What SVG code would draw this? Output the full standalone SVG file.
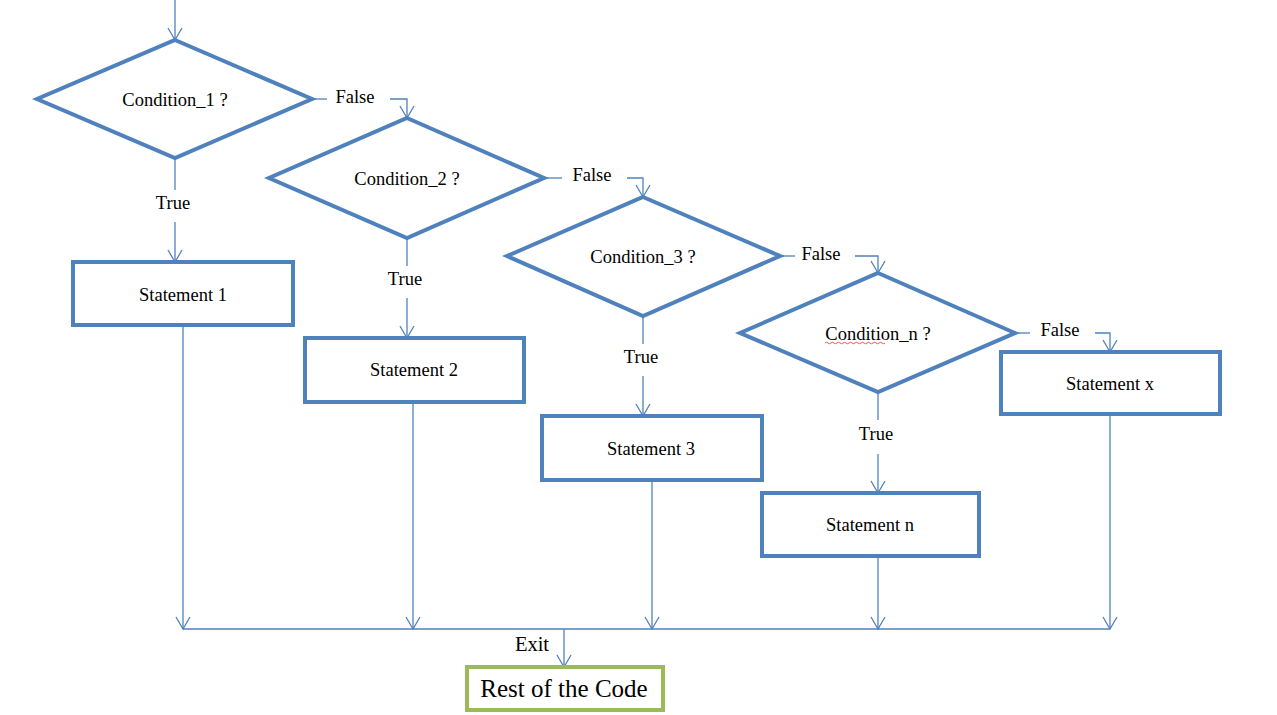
<svg xmlns="http://www.w3.org/2000/svg" width="1277" height="715" viewBox="0 0 1277 715">
<style>
.shape{fill:#fff;stroke:#4F81BD;stroke-width:4;stroke-linejoin:miter}
.end{fill:#fff;stroke:#9BBB59;stroke-width:4}
.con{fill:none;stroke:#4F81BD;stroke-width:1.3}
.t{font-family:"Liberation Serif","Times New Roman",serif;font-size:18.5px;fill:#000;text-anchor:middle}
.exit{font-size:20.5px}
.big{font-size:25px}
</style>
<defs>
<marker id="arr" viewBox="0 0 16 16" refX="14" refY="8" markerWidth="16" markerHeight="16" markerUnits="userSpaceOnUse" orient="auto">
<path d="M2,1 L14,8 L2,15" fill="none" stroke="#4F81BD" stroke-width="1.3"/>
</marker>
</defs>
<rect width="1277" height="715" fill="#fff"/>
<g id="connectors">
<line class="con" x1="175" y1="0" x2="175" y2="40" marker-end="url(#arr)"/>
<line class="con" x1="312" y1="99" x2="327" y2="99"/>
<polyline class="con" points="390,99 407,99 407,118" marker-end="url(#arr)"/>
<line class="con" x1="175" y1="158" x2="175" y2="190"/>
<line class="con" x1="175" y1="222" x2="175" y2="262" marker-end="url(#arr)"/>
<line class="con" x1="544" y1="178" x2="562" y2="178"/>
<polyline class="con" points="627,178 643,178 643,197" marker-end="url(#arr)"/>
<line class="con" x1="407" y1="238" x2="407" y2="266"/>
<line class="con" x1="407" y1="298" x2="407" y2="338" marker-end="url(#arr)"/>
<line class="con" x1="780" y1="256" x2="795" y2="256"/>
<polyline class="con" points="855,256 878,256 878,273" marker-end="url(#arr)"/>
<line class="con" x1="643" y1="316" x2="643" y2="344"/>
<line class="con" x1="643" y1="376" x2="643" y2="416" marker-end="url(#arr)"/>
<line class="con" x1="1015" y1="333" x2="1030" y2="333"/>
<polyline class="con" points="1095,333 1110,333 1110,352" marker-end="url(#arr)"/>
<line class="con" x1="878" y1="392" x2="878" y2="420"/>
<line class="con" x1="878" y1="454" x2="878" y2="493" marker-end="url(#arr)"/>
<line class="con" x1="183" y1="325" x2="183" y2="629" marker-end="url(#arr)"/>
<line class="con" x1="413" y1="402" x2="413" y2="629" marker-end="url(#arr)"/>
<line class="con" x1="652" y1="480" x2="652" y2="629" marker-end="url(#arr)"/>
<line class="con" x1="878" y1="556" x2="878" y2="629" marker-end="url(#arr)"/>
<line class="con" x1="1110" y1="414" x2="1110" y2="629" marker-end="url(#arr)"/>
<line class="con" x1="183" y1="629" x2="1110" y2="629"/>
<line class="con" x1="564" y1="629" x2="564" y2="667" marker-end="url(#arr)"/>
<text class="t" x="355" y="103">False</text>
<text class="t" x="592" y="181">False</text>
<text class="t" x="821" y="260">False</text>
<text class="t" x="1060" y="336">False</text>
<text class="t" x="173" y="209">True</text>
<text class="t" x="405" y="285">True</text>
<text class="t" x="641" y="363">True</text>
<text class="t" x="876" y="440">True</text>
<text class="t exit" x="532" y="651">Exit</text>
</g>
<g id="cond1">
<polygon class="shape" points="175,40 312,99 175,158 37,99"/>
<text class="t" x="175" y="106">Condition_1 ?</text>
</g>
<g id="cond2">
<polygon class="shape" points="407,118 544,178 407,238 269,178"/>
<text class="t" x="407" y="185">Condition_2 ?</text>
</g>
<g id="cond3">
<polygon class="shape" points="643,197 780,256 643,316 507,256"/>
<text class="t" x="643" y="263">Condition_3 ?</text>
</g>
<g id="condn">
<polygon class="shape" points="878,273 1015,333 878,392 740,333"/>
<text class="t" x="878" y="340">Condition_n ?</text>
<path d="M825,343 q1.5,-1.5 3,0 t3,0 t3,0 t3,0 t3,0 t3,0 t3,0 t3,0 t3,0 t3,0 t3,0 t3,0 t3,0 t3,0 t3,0 t3,0 t3,0 t3,0 t3,0 t3,0" fill="none" stroke="#e03030" stroke-width="0.8"/>
</g>
<g id="stmt1">
<rect class="shape" x="73" y="262" width="220" height="63"/>
<text class="t" x="183" y="301">Statement 1</text>
</g>
<g id="stmt2">
<rect class="shape" x="305" y="338" width="219" height="64"/>
<text class="t" x="414" y="376">Statement 2</text>
</g>
<g id="stmt3">
<rect class="shape" x="542" y="416" width="220" height="64"/>
<text class="t" x="651" y="455">Statement 3</text>
</g>
<g id="stmtn">
<rect class="shape" x="762" y="493" width="217" height="63"/>
<text class="t" x="870" y="531">Statement n</text>
</g>
<g id="stmtx">
<rect class="shape" x="1001" y="352" width="219" height="62"/>
<text class="t" x="1110" y="390">Statement x</text>
</g>
<g id="rest">
<rect class="end" x="467" y="667" width="196" height="43"/>
<text class="t big" x="564" y="697">Rest of the Code</text>
</g>
</svg>
